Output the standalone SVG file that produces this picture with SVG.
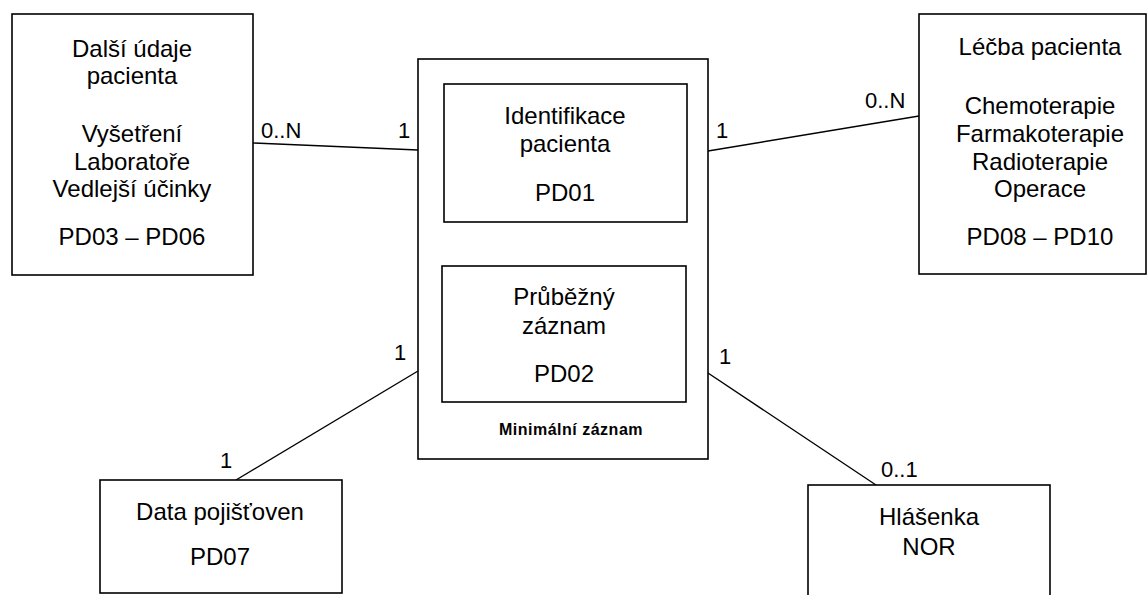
<svg xmlns="http://www.w3.org/2000/svg" width="1147" height="595" viewBox="0 0 1147 595">
<style>
.box{fill:#fff;stroke:#000;stroke-width:1.6}
.t{font-family:"Liberation Sans",Arial,sans-serif;font-size:24px;fill:#000;text-anchor:middle}
.lb{font-family:"Liberation Sans",Arial,sans-serif;font-size:22px;fill:#000}
.m{text-anchor:middle}
.b{font-family:"Liberation Sans",Arial,sans-serif;font-size:16px;font-weight:bold;letter-spacing:0.5px;fill:#000;text-anchor:middle}
.c{stroke:#000;stroke-width:1.4;fill:none}
</style>
<rect width="1147" height="595" fill="#fff"/>
<g id="connectors">
<line class="c" x1="253" y1="143" x2="418" y2="150"/>
<line class="c" x1="708" y1="151" x2="919" y2="116"/>
<line class="c" x1="418" y1="371" x2="236" y2="480"/>
<line class="c" x1="705" y1="371" x2="876" y2="485"/>
<text class="lb" x="261" y="138">0..N</text>
<text class="lb m" x="404" y="138">1</text>
<text class="lb m" x="722" y="138">1</text>
<text class="lb" x="865" y="108">0..N</text>
<text class="lb m" x="400" y="360">1</text>
<text class="lb m" x="226" y="468">1</text>
<text class="lb m" x="725" y="364">1</text>
<text class="lb" x="881" y="477">0..1</text>
</g>
<g id="dalsi-udaje">
<rect class="box" x="12" y="14" width="241" height="261"/>
<text class="t" x="132" y="57">Další údaje</text>
<text class="t" x="132" y="84">pacienta</text>
<text class="t" x="132" y="142">Vyšetření</text>
<text class="t" x="132" y="170">Laboratoře</text>
<text class="t" x="132" y="197">Vedlejší účinky</text>
<text class="t" x="132" y="245">PD03 – PD06</text>
</g>
<g id="minimalni-zaznam">
<rect class="box" x="418" y="59" width="290" height="400"/>
<text class="b" x="571" y="435">Minimální záznam</text>
</g>
<g id="identifikace">
<rect class="box" x="444" y="84" width="243" height="138"/>
<text class="t" x="565" y="124">Identifikace</text>
<text class="t" x="565" y="152">pacienta</text>
<text class="t" x="565" y="201">PD01</text>
</g>
<g id="prubezny">
<rect class="box" x="442" y="266" width="244" height="136"/>
<text class="t" x="564" y="305">Průběžný</text>
<text class="t" x="564" y="334">záznam</text>
<text class="t" x="564" y="382">PD02</text>
</g>
<g id="lecba">
<rect class="box" x="919" y="14" width="227" height="260"/>
<text class="t" x="1040" y="55">Léčba pacienta</text>
<text class="t" x="1040" y="114">Chemoterapie</text>
<text class="t" x="1040" y="142">Farmakoterapie</text>
<text class="t" x="1040" y="170">Radioterapie</text>
<text class="t" x="1040" y="197">Operace</text>
<text class="t" x="1040" y="245">PD08 – PD10</text>
</g>
<g id="data-pojistoven">
<rect class="box" x="100" y="480" width="242" height="113"/>
<text class="t" x="220" y="520">Data pojišťoven</text>
<text class="t" x="220" y="565">PD07</text>
</g>
<g id="hlasenka">
<rect class="box" x="808" y="485" width="242" height="130"/>
<text class="t" x="929" y="525">Hlášenka</text>
<text class="t" x="929" y="555">NOR</text>
</g>
</svg>
